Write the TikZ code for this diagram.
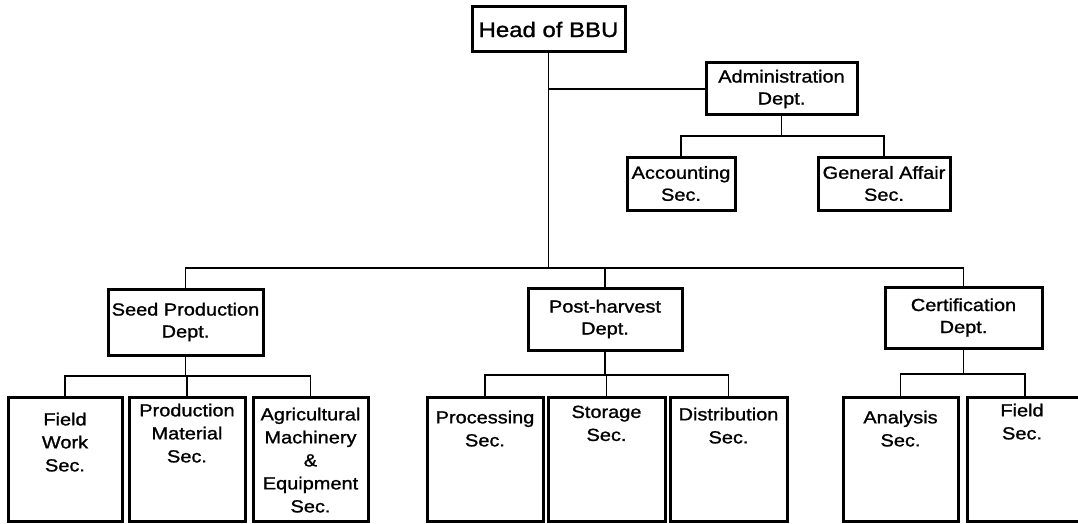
\documentclass[tikz,border=0pt]{standalone}
\usepackage{fontspec}
\setmainfont{Liberation Sans}[FakeStretch=1.14, FakeBold=1.2]
\begin{document}
\begin{tikzpicture}[x=1pt,y=-1pt,
  box/.style={draw=black, line width=3pt, fill=white, inner sep=0pt, align=center,
    font=\fontsize{17.5}{22}\selectfont},
  lbl/.style={inner sep=0pt, align=center, anchor=north, font=\fontsize{17.5}{23}\selectfont},
  conn/.style={draw=black, line width=1.2pt}]
\useasboundingbox (0,0) rectangle (1078,524);
\clip (0,0) rectangle (1078,524);
\fill[white] (0,0) rectangle (1078,524);
% top
\node[box, minimum width=153, minimum height=45, font=\fontsize{21}{24}\selectfont] (head) at (548.5,29.5) {Head of BBU};
\node[box, minimum width=151, minimum height=52] (admin) at (781.5,89) {Administration\\Dept.};
\node[box, minimum width=108, minimum height=53] (acc) at (681,183.5) {Accounting\\Sec.};
\node[box, minimum width=132, minimum height=53] (ga) at (884,183.5) {General Affair\\Sec.};
% departments
\node[box, minimum width=155, minimum height=66] (seed) at (185.5,322) {Seed Production\\Dept.};
\node[box, minimum width=154, minimum height=62] (post) at (605,319) {Post-harvest\\Dept.};
\node[box, minimum width=157, minimum height=61] (cert) at (963.5,317.5) {Certification\\Dept.};
% sections
\node[box, minimum width=114, minimum height=124] (fw) at (65,459) {};
\node[box, minimum width=116, minimum height=124] (pm) at (187,459) {};
\node[box, minimum width=115, minimum height=124] (agr) at (310.5,459) {};
\node[box, minimum width=116, minimum height=124] (proc) at (485,459) {};
\node[box, minimum width=117, minimum height=124] (stor) at (606.5,459) {};
\node[box, minimum width=117, minimum height=124] (dist) at (728.5,459) {};
\node[box, minimum width=115, minimum height=124] (ana) at (900.5,459) {};
\node[box, minimum width=116, minimum height=124] (fs) at (1025,459) {};
\node[lbl] (fwl) at ([yshift=-17pt]fw.north) {Field\\Work\\Sec.};
\node[lbl] (pml) at ([yshift=-8pt]pm.north) {Production\\Material\\Sec.};
\node[lbl] (agrl) at ([yshift=-12pt]agr.north) {Agricultural\\Machinery\\\&\\Equipment\\Sec.};
\node[lbl] (procl) at ([yshift=-15pt]proc.north) {Processing\\Sec.};
\node[lbl] (storl) at ([yshift=-10pt]stor.north) {Storage\\Sec.};
\node[lbl] (distl) at ([yshift=-12pt]dist.north) {Distribution\\Sec.};
\node[lbl] (anal) at ([yshift=-15pt]ana.north) {Analysis\\Sec.};
\node[lbl] (fsl) at ([yshift=-8pt,xshift=-3pt]fs.north) {Field\\Sec.};
% connectors
\coordinate (bar) at (0,268);
\coordinate (abar) at (0,136);
\coordinate (sbar) at (0,376);
\coordinate (pbar) at (0,375);
\coordinate (cbar) at (0,374);
\draw[conn] (head.south) -- (head.south |- bar);
\draw[conn] (head.south |- admin.west) -- (admin.west);
\draw[conn] (seed.north) -- (seed.north |- bar) -- (cert.north |- bar) -- (cert.north);
\draw[conn] (post.north) -- (post.north |- bar);
\draw[conn] (admin.south) -- (admin.south |- abar);
\draw[conn] (acc.north) -- (acc.north |- abar) -- (ga.north |- abar) -- (ga.north);
\draw[conn] (seed.south) -- (seed.south |- sbar);
\draw[conn] (fw.north) -- (fw.north |- sbar) -- (agr.north |- sbar) -- (agr.north);
\draw[conn] (pm.north) -- (pm.north |- sbar);
\draw[conn] (post.south) -- (post.south |- pbar);
\draw[conn] (proc.north) -- (proc.north |- pbar) -- (dist.north |- pbar) -- (dist.north);
\draw[conn] (stor.north) -- (stor.north |- pbar);
\draw[conn] (cert.south) -- (cert.south |- cbar);
\draw[conn] (ana.north) -- (ana.north |- cbar) -- (fs.north |- cbar) -- (fs.north);
\end{tikzpicture}
\end{document}
